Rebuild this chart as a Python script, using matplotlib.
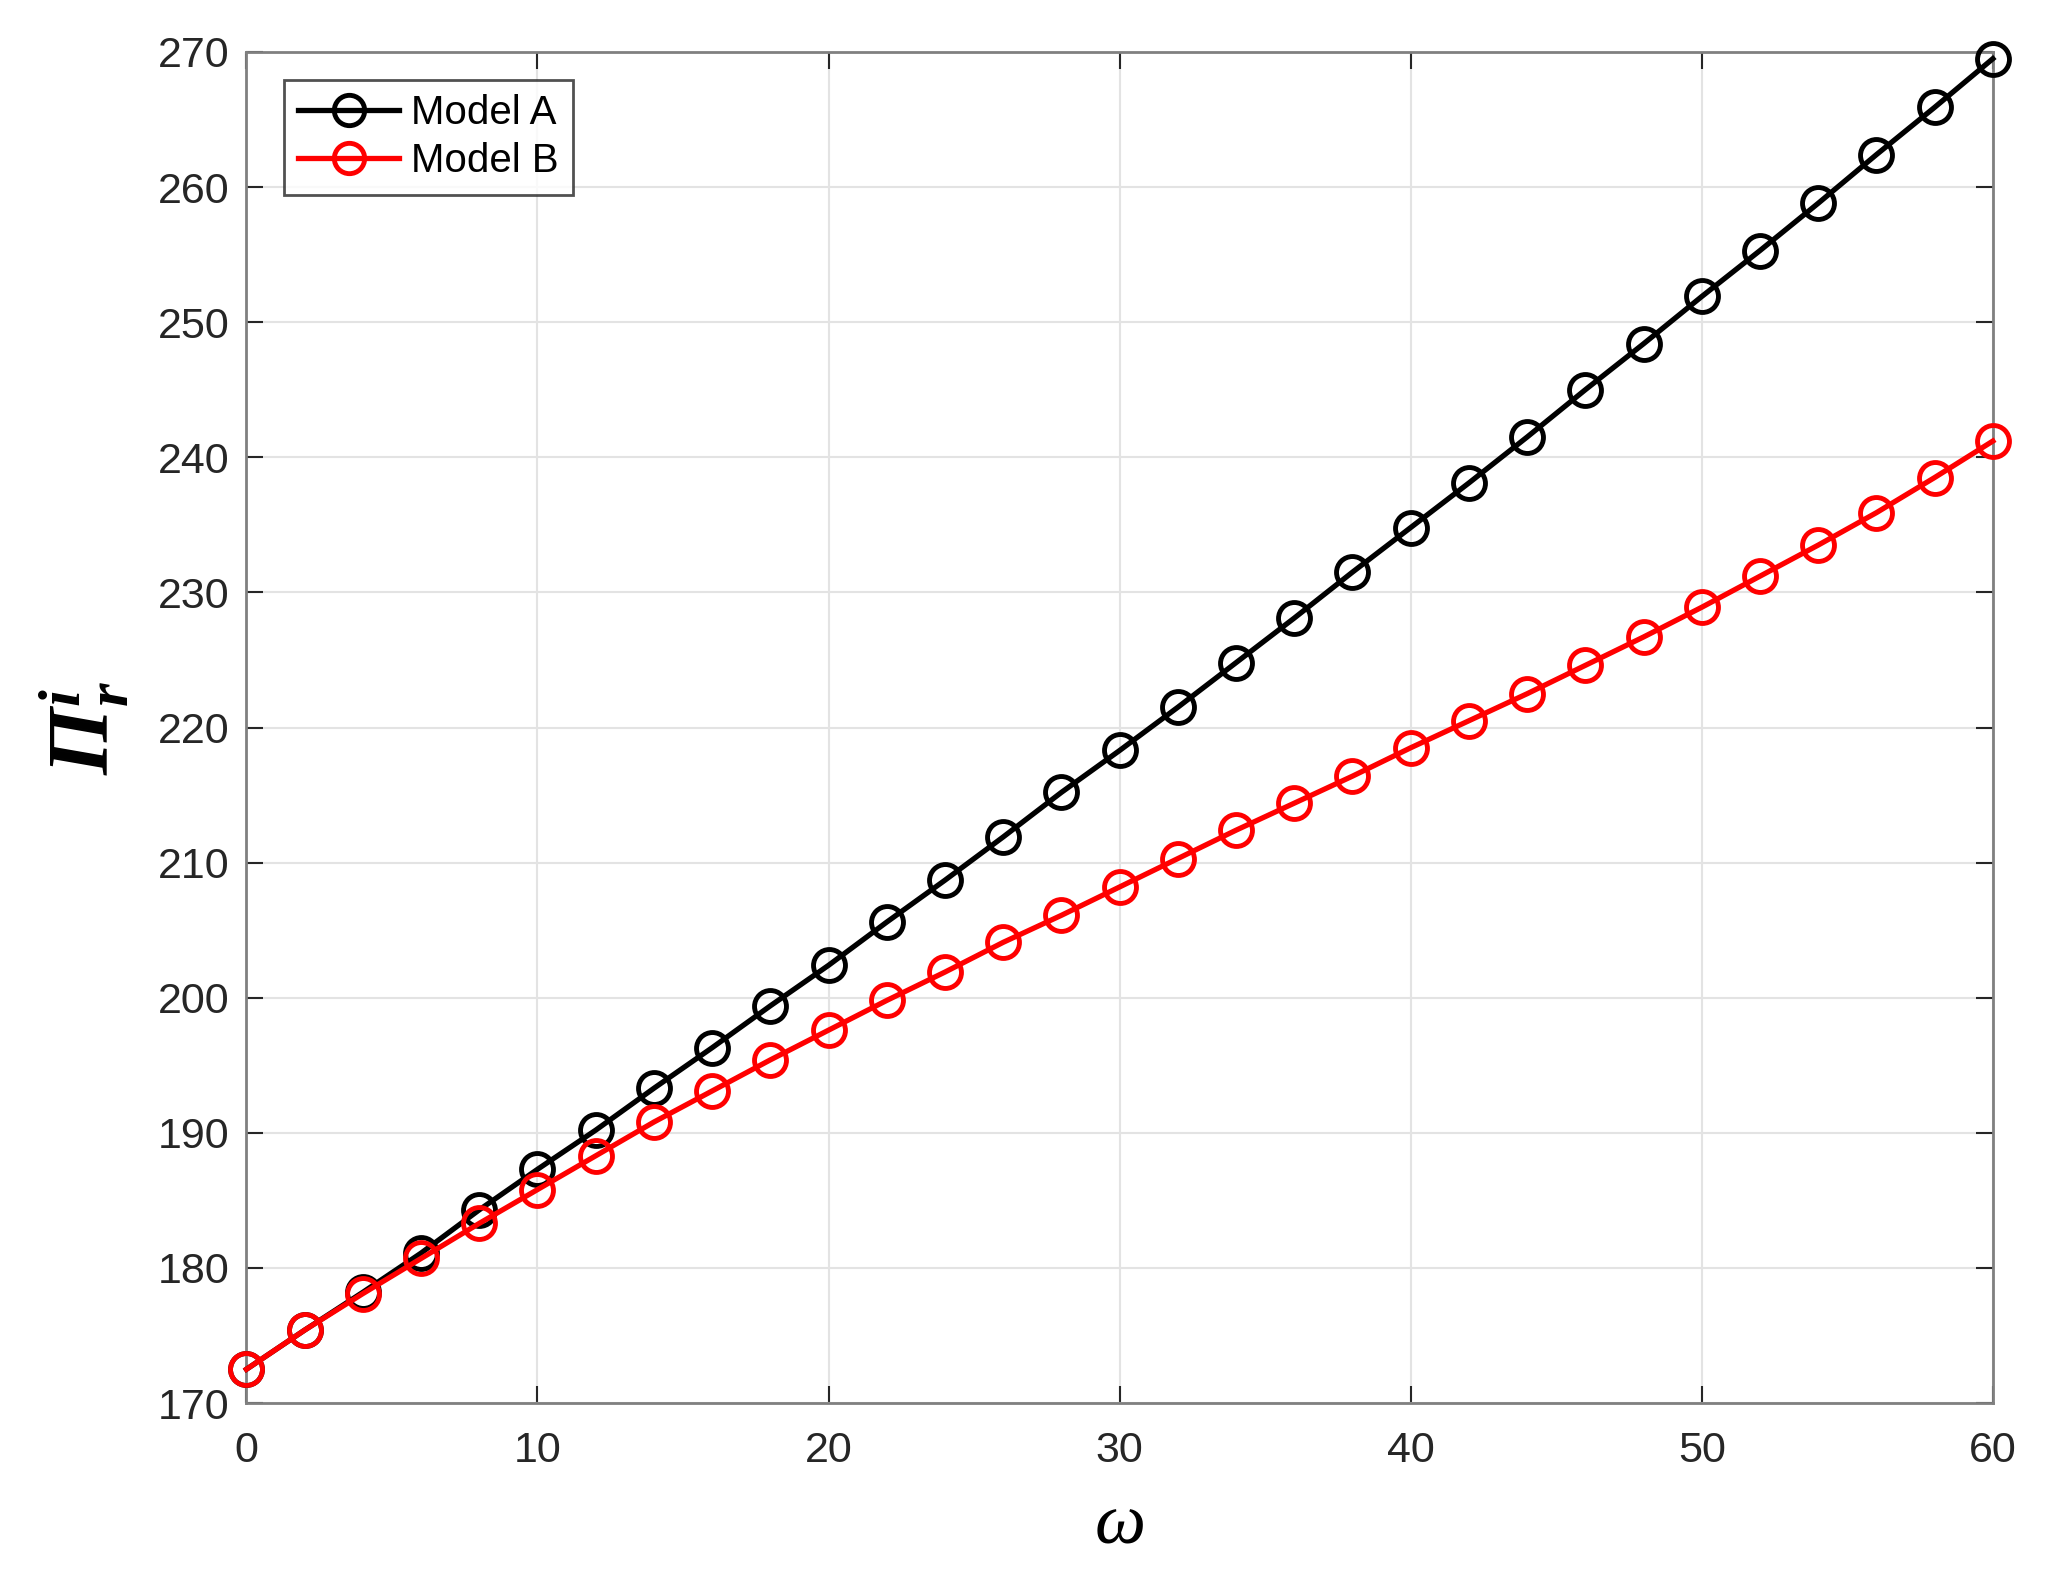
import matplotlib
matplotlib.use("Agg")
import matplotlib.pyplot as plt

omega = [0, 2, 4, 6, 8, 10, 12, 14, 16, 18, 20, 22, 24, 26, 28, 30,
         32, 34, 36, 38, 40, 42, 44, 46, 48, 50, 52, 54, 56, 58, 60]
model_a = [172.5, 175.4, 178.2, 181.1, 184.3, 187.3, 190.2, 193.3, 196.3, 199.4,
           202.4, 205.6, 208.7, 211.9, 215.2, 218.3, 221.5, 224.8, 228.1, 231.5,
           234.8, 238.1, 241.5, 245.0, 248.4, 251.9, 255.3, 258.8, 262.4, 265.9, 269.5]
model_b = [172.5, 175.4, 178.1, 180.7, 183.3, 185.8, 188.3, 190.8, 193.1, 195.4,
           197.6, 199.8, 201.9, 204.1, 206.1, 208.2, 210.3, 212.4, 214.4, 216.4,
           218.5, 220.5, 222.5, 224.6, 226.7, 228.9, 231.2, 233.5, 235.9, 238.5, 241.2]
labels = ["Model A", "Model B"]
xticks = [0, 10, 20, 30, 40, 50, 60]
yticks = [170, 180, 190, 200, 210, 220, 230, 240, 250, 260, 270]

plt.rcParams['font.family'] = ['Liberation Sans', 'DejaVu Sans']
plt.rcParams['mathtext.fontset'] = 'custom'
plt.rcParams['mathtext.it'] = 'Liberation Serif:italic:bold'
plt.rcParams['mathtext.rm'] = 'Liberation Serif:italic:bold'

fig = plt.figure(figsize=(20.45, 15.74), dpi=100)
ax = fig.add_axes([0.1205, 0.1086, 0.854, 0.8584])

ax.plot(omega, model_a, color='black', lw=3.8, marker='o', ms=23, mfc='none',
        mew=3.5, label=labels[0], zorder=3, clip_on=False)
ax.plot(omega, model_b, color='red', lw=3.8, marker='o', ms=23, mfc='none',
        mew=3.5, label=labels[1], zorder=4, clip_on=False)

ax.set_xlim(0, 60)
ax.set_ylim(170, 270)
ax.set_xticks(xticks)
ax.set_yticks(yticks)
ax.grid(True, color='#e3e3e3', lw=1.5)
ax.set_axisbelow(True)
ax.tick_params(direction='in', length=12, width=1.5, labelsize=31,
               top=True, right=True, colors='#262626')
ax.tick_params(axis='x', pad=20)
ax.tick_params(axis='y', pad=12)
for s in ax.spines.values():
    s.set_color('#808080')
    s.set_linewidth(2)

ax.set_xlabel('ω', fontsize=52, fontfamily='Liberation Serif', fontstyle='italic',
              labelpad=16)
ax.set_ylabel(r'$\mathit{Π}_{r}^{i}$', fontsize=62, labelpad=20)

leg = ax.legend(loc='upper left', bbox_to_anchor=(0.0217, 0.979), fontsize=29,
                frameon=True, fancybox=False, edgecolor='#262626',
                handlelength=2.5, borderpad=0.35, labelspacing=0.25,
                handletextpad=0.3, borderaxespad=0, markerscale=0.95)
leg.get_frame().set_linewidth(2)

fig.savefig('out.png', dpi=100, facecolor='white')
